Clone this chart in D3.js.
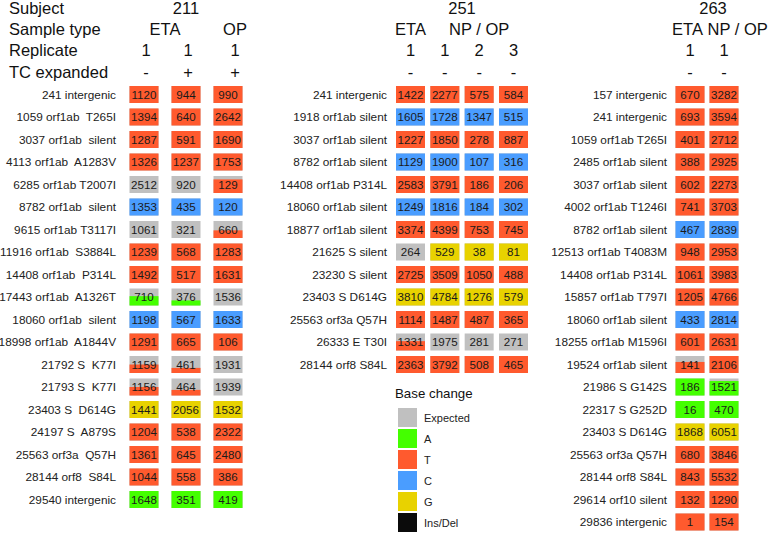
<!DOCTYPE html>
<html><head><meta charset="utf-8">
<script src="https://cdn.jsdelivr.net/npm/d3@7"></script>
<style>
html,body{margin:0;padding:0;background:#fff;}
svg{display:block;font-family:"Liberation Sans",Arial,Helvetica,sans-serif;}
</style></head>
<body>
<svg id="chart" width="768" height="534"></svg>
<script>
// ---------- DATA ----------
const headerRowLabels = ["Subject", "Sample type", "Replicate", "TC expanded"];

// Subject 211
const s211Columns = [
  {type: "ETA", rep: "1", tc: "-"},
  {type: "ETA", rep: "1", tc: "+"},
  {type: "OP",  rep: "1", tc: "+"}
];
const s211Labels = ["241 intergenic","1059 orf1ab  T265I","3037 orf1ab  silent","4113 orf1ab  A1283V","6285 orf1ab T2007I","8782 orf1ab  silent","9615 orf1ab T3117I","11916 orf1ab  S3884L","14408 orf1ab  P314L","17443 orf1ab  A1326T","18060 orf1ab  silent","18998 orf1ab  A1844V","21792 S  K77I","21793 S  K77I","23403 S  D614G","24197 S  A879S","25563 orf3a  Q57H","28144 orf8  S84L","29540 intergenic"];
const s211Base = ["T","T","T","T","T","C","T","T","T","A","C","T","T","T","G","T","T","T","A"];
const s211Values = [
  [1120,1394,1287,1326,2512,1353,1061,1239,1492,710,1198,1291,1159,1156,1441,1204,1361,1044,1648],
  [944,640,591,1237,920,435,321,568,517,376,567,665,461,464,2056,538,645,558,351],
  [990,2642,1690,1753,129,120,660,1283,1631,1536,1633,106,1931,1939,1532,2322,2480,386,419]
];
// fraction of reads carrying the changed base (rest = expected)
const s211Frac = [
  [1,1,1,1,0,1,0,1,1,0.55,1,1,0.5,0.5,1,1,1,1,1],
  [1,1,1,1,0,1,0,1,1,0.3,1,1,0.3,0.33,1,1,1,1,1],
  [1,1,1,1,0.8,1,0.45,1,1,0,1,1,0,0,1,1,1,1,1]
];

// Subject 251
const s251Columns = [
  {type: "ETA", rep: "1", tc: "-"},
  {type: "NP / OP", rep: "1", tc: "-"},
  {type: "NP / OP", rep: "2", tc: "-"},
  {type: "NP / OP", rep: "3", tc: "-"}
];
const s251Labels = ["241 intergenic","1918 orf1ab silent","3037 orf1ab silent","8782 orf1ab silent","14408 orf1ab P314L","18060 orf1ab silent","18877 orf1ab silent","21625 S silent","23230 S silent","23403 S D614G","25563 orf3a Q57H","26333 E T30I","28144 orf8 S84L"];
const s251Base = ["T","C","T","C","T","C","T","G","T","G","T","T","T"];
const s251Values = [
  [1422,1605,1227,1129,2583,1249,3374,264,2725,3810,1114,1331,2363],
  [2277,1728,1850,1900,3791,1816,4399,529,3509,4784,1487,1975,3792],
  [575,1347,278,107,186,184,753,38,1050,1276,487,281,508],
  [584,515,887,316,206,302,745,81,488,579,365,271,465]
];
const s251Frac = [
  [1,1,1,1,1,1,1,0,1,1,1,0.55,1],
  [1,1,1,1,1,1,1,1,1,1,1,0,1],
  [1,1,1,1,1,1,1,1,1,1,1,0,1],
  [1,1,1,1,1,1,1,1,1,1,1,0,1]
];

// Subject 263
const s263Columns = [
  {type: "ETA", rep: "1", tc: "-"},
  {type: "NP / OP", rep: "1", tc: "-"}
];
const s263Labels = ["157 intergenic","241 intergenic","1059 orf1ab T265I","2485 orf1ab silent","3037 orf1ab silent","4002 orf1ab T1246I","8782 orf1ab silent","12513 orf1ab T4083M","14408 orf1ab P314L","15857 orf1ab T797I","18060 orf1ab silent","18255 orf1ab M1596I","19524 orf1ab silent","21986 S G142S","22317 S G252D","23403 S D614G","25563 orf3a Q57H","28144 orf8 S84L","29614 orf10 silent","29836 intergenic"];
const s263Base = ["T","T","T","T","T","T","C","T","T","T","C","T","T","A","A","G","T","T","T","T"];
const s263Values = [
  [670,693,401,388,602,741,467,948,1061,1205,433,601,141,186,16,1868,680,843,132,1],
  [3282,3594,2712,2925,2273,3703,2839,2953,3983,4766,2814,2631,2106,1521,470,6051,3846,5532,1290,154]
];
const s263Frac = [
  [1,1,1,1,1,1,1,1,1,1,1,1,0.65,1,1,1,1,1,1,1],
  [1,1,1,1,1,1,1,1,1,1,1,1,1,0.85,1,1,1,1,1,1]
];

const legendKeys = ["Expected","A","T","C","G","Ins/Del"];
const legendColors = ["#c0c0c0","#44ff00","#ff5a2e","#4a9dff","#e8d200","#0b0b0b"];

// ---------- DRAW ----------
const color = d3.scaleOrdinal().domain(legendKeys).range(legendColors);
const svg = d3.select("#chart");

const headerY = [14, 34.5, 56, 77.5];
const hdrFont = 16.5;
svg.selectAll("text.hdrlab").data(headerRowLabels).join("text")
  .attr("class","hdrlab")
  .attr("x", 9).attr("y", (d,i)=>headerY[i])
  .attr("font-size", hdrFont).attr("fill","#111").text(d=>d);

const cellW = 29, cellH = 17, rowTop = 86, rowStep = 22.5;

function panel(cfg) {
  const g = svg.append("g");
  const n = cfg.labels.length;
  const y = d3.scalePoint().domain(d3.range(n)).range([rowTop, rowTop + (n-1)*rowStep]);
  const x = d3.scalePoint().domain(d3.range(cfg.columns.length)).range(cfg.xRange);

  // subject header
  const meanX = d3.mean(cfg.columns, (c,i)=>x(i));
  g.append("text").attr("x", meanX + (cfg.subjectDx||0)).attr("y", headerY[0])
    .attr("text-anchor","middle").attr("font-size",hdrFont).attr("fill","#111").text(cfg.subject);

  // sample type groups
  const groups = d3.groups(cfg.columns.map((c,i)=>({c,i})), d=>d.c.type);
  groups.forEach(([type, arr]) => {
    let gx = d3.mean(arr, d=>x(d.i));
    let anchor = "middle";
    if (cfg.typeAnchorStart && cfg.typeAnchorStart.includes(type)) {
      gx = x(arr[0].i) - cellW/2 - 2; anchor = "start";
    }
    g.append("text").attr("x", gx + (cfg.typeDx && cfg.typeDx[type] || 0)).attr("y", headerY[1])
      .attr("text-anchor", anchor).attr("font-size",hdrFont).attr("fill","#111").text(type);
  });
  // replicate & TC
  cfg.columns.forEach((c,i) => {
    const dx = (cfg.colHdrDx && cfg.colHdrDx[i]) || 0;
    g.append("text").attr("x", x(i)+dx).attr("y", headerY[2])
      .attr("text-anchor","middle").attr("font-size",hdrFont).attr("fill","#111").text(c.rep);
    g.append("text").attr("x", x(i)+dx).attr("y", headerY[3])
      .attr("text-anchor","middle").attr("font-size",hdrFont).attr("fill","#111").text(c.tc);
  });

  // row labels
  g.selectAll("text.rl").data(cfg.labels).join("text")
    .attr("class","rl")
    .attr("x", cfg.labelX).attr("y", (d,i)=>y(i) + cellH/2 + 4.3)
    .attr("text-anchor","end").attr("font-size",11.8).attr("fill","#222")
    .style("white-space","pre").attr("xml:space","preserve").text(d=>d);

  // cells
  cfg.columns.forEach((c,ci) => {
    const cells = cfg.values[ci].map((v,ri)=>({v, ri, f: cfg.frac[ci][ri], base: cfg.base[ri]}));
    const cg = g.append("g");
    // expected background
    cg.selectAll("rect.bg").data(cells).join("rect")
      .attr("x", x(ci)-cellW/2).attr("y", d=>y(d.ri))
      .attr("width", cellW).attr("height", cellH)
      .attr("fill", color("Expected"));
    // changed-base portion (bottom)
    cg.selectAll("rect.fg").data(cells.filter(d=>d.f>0)).join("rect")
      .attr("x", x(ci)-cellW/2).attr("y", d=>y(d.ri) + cellH*(1-d.f))
      .attr("width", cellW).attr("height", d=>cellH*d.f)
      .attr("fill", d=>color(d.base));
    cg.selectAll("text").data(cells).join("text")
      .attr("x", x(ci)).attr("y", d=>y(d.ri)+cellH/2+4.2)
      .attr("text-anchor","middle").attr("font-size",11.6).attr("fill","#1a1a1a")
      .text(d=>d.v);
  });
}

panel({subject:"211", columns:s211Columns, labels:s211Labels, base:s211Base, values:s211Values, frac:s211Frac,
       xRange:[144,228], labelX:116, colHdrDx:[2,2,7], typeDx:{"OP":7}});
panel({subject:"251", columns:s251Columns, labels:s251Labels, base:s251Base, values:s251Values, frac:s251Frac,
       xRange:[410.5,513.5], labelX:387});
panel({subject:"263", columns:s263Columns, labels:s263Labels, base:s263Base, values:s263Values, frac:s263Frac,
       xRange:[690,724], labelX:667, subjectDx:6, typeAnchorStart:["NP / OP"], typeDx:{"ETA":-2.5}});

// legend
const lg = svg.append("g");
lg.append("text").attr("x",395).attr("y",398).attr("font-size",13.3).attr("fill","#111").text("Base change");
const ly = d3.scalePoint().domain(legendKeys).range([408, 408 + 21*(legendKeys.length-1)]);
lg.selectAll("rect").data(legendKeys).join("rect")
  .attr("x",398).attr("y",d=>ly(d)).attr("width",19).attr("height",19)
  .attr("fill",d=>color(d));
lg.selectAll("text.li").data(legendKeys).join("text")
  .attr("class","li").attr("x",424).attr("y",d=>ly(d)+13.5)
  .attr("font-size",11).attr("fill","#222").text(d=>d);
</script>
</body></html>
